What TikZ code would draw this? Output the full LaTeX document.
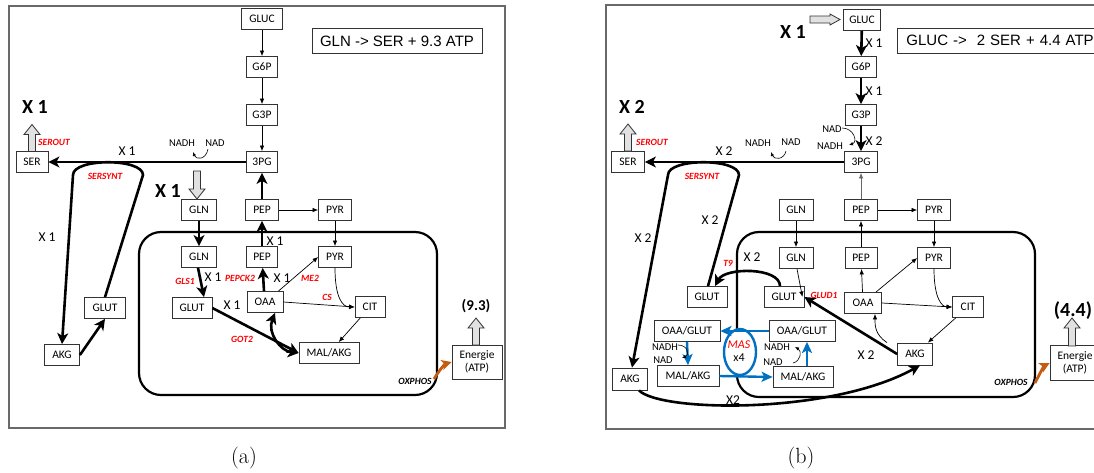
\documentclass[tikz,border=0pt]{standalone}
\usepackage{fontspec}
\newfontfamily\calib{Carlito}
\newfontfamily\arialf{Liberation Sans}
\usetikzlibrary{arrows.meta,shapes.geometric}
\definecolor{mred}{RGB}{255,0,0}
\definecolor{mblue}{RGB}{0,112,192}
\definecolor{morange}{RGB}{197,90,17}
\definecolor{framegray}{RGB}{105,105,105}
\definecolor{fatfill}{RGB}{225,225,225}
\newcommand\fatarr[5]{%
\begin{scope}[shift={(#1,#2)},rotate=#3]
\draw[fat] (0,-3.5)--(#4-10,-3.5)--(#4-10,-#5)--(#4,0)--(#4-10,#5)--(#4-10,3.5)--(0,3.5)--cycle;
\end{scope}}
\tikzset{
 box/.style={draw=black!80, line width=0.8pt, fill=white, font=\calib\fontsize{11.5}{13}\selectfont, inner sep=0pt, minimum height=21pt, minimum width=33pt},
 thin/.style={line width=0.7pt, -{Latex[length=5.5pt,width=4.5pt]}},
 thk/.style={line width=2.6pt, -{Stealth[length=11pt,width=11pt,inset=3pt]}},
 blu/.style={draw=mblue, line width=2.4pt, -{Stealth[length=11pt,width=10pt,inset=2.5pt]}},
 lbl/.style={font=\calib\fontsize{13.5}{15}\selectfont, inner sep=0pt},
 big/.style={font=\calib\bfseries\fontsize{20}{22}\selectfont, inner sep=0pt},
 enz/.style={font=\calib\bfseries\itshape\fontsize{9.5}{11}\selectfont, text=mred, inner sep=0pt},
 small/.style={font=\calib\fontsize{10.5}{11}\selectfont, inner sep=0pt},
 fat/.style={draw=black!80, line width=0.8pt, fill=fatfill},
 frame/.style={draw=framegray, line width=1.2pt},
 cell/.style={line width=2.2pt, rounded corners=22pt},
 nad/.style={line width=0.6pt, -{Latex[length=4pt,width=3.5pt]}},
 title/.style={draw=black!80, line width=0.8pt, font=\arialf\fontsize{15}{17}\selectfont, minimum height=25pt, inner sep=0pt},
 ox/.style={draw=morange, line width=2.8pt, -{Stealth[length=10pt,width=10pt,inset=2.5pt]}},
 captxt/.style={font=\fontsize{22}{24}\selectfont, inner sep=0pt},
}
\begin{document}
\begin{tikzpicture}[x=1pt,y=-1pt]
\useasboundingbox (0,0) rectangle (1094,472);
\clip (0,0) rectangle (1094,472);
% ================= panel (a) =================
\draw[frame] (9,6) rectangle (505,428);
\draw[cell] (139,232) rectangle (437,395);
\node[box, minimum width=41pt] (aGLUC) at (262,19) {GLUC};
\node[box, minimum width=31pt] (aG6P) at (262,67) {G6P};
\node[box, minimum width=31pt] (aG3P) at (262,115) {G3P};
\node[box, minimum width=31pt] (a3PG) at (262,162) {3PG};
\node[box] (aPEP) at (262,210) {PEP};
\node[box] (aPYR) at (335,210) {PYR};
\node[box, minimum width=35pt] (aGLN) at (199,210) {GLN};
\node[box, minimum width=35pt] (aGLNi) at (199,257) {GLN};
\node[box, minimum width=31pt] (aPEPi) at (262,257) {PEP};
\node[box] (aPYRi) at (335,257) {PYR};
\node[box, minimum width=40pt] (aGLUTi) at (192,308) {GLUT};
\node[box, minimum width=36pt] (aOAA) at (265,302) {OAA};
\node[box, minimum width=30pt] (aCIT) at (370,307) {CIT};
\node[box, minimum width=60pt] (aMAL) at (329,353) {MAL/AKG};
\node[box, minimum width=50pt, minimum height=34pt, align=center] (aEN) at (477,362) {Energie\\(ATP)};
\node[box, minimum width=41pt] (aGLUT) at (105,308) {GLUT};
\node[box, minimum width=35pt] (aAKG) at (62,355) {AKG};
\node[box, minimum width=32pt] (aSER) at (32,162) {SER};
\node[title, minimum width=170pt] (aT) at (397,41) {GLN -> SER + 9.3 ATP};
% connectors
\draw[thin] (aGLUC) -- (aG6P);
\draw[thin] (aG6P) -- (aG3P);
\draw[thin] (aG3P) -- (a3PG);
\draw[thk] (a3PG) -- (aSER);
\draw[thk] (aPEP) -- (a3PG);
\draw[thk] (aPEPi) -- (aPEP);
\draw[thin] (aPEP) -- (aPYR);
\draw[thin] (aPYR) -- (aPYRi);
\draw[thk] (aGLN) -- (aGLNi);
\draw[thk] ([xshift=-1pt]aGLNi.south) -- ([xshift=12pt]aGLUTi.north);
\draw[thk] ([xshift=-1pt]aOAA.north) -- (aPEPi);
\draw[thin] ([xshift=-5pt]aOAA.north east) -- (aPYRi.west);
\draw[thin] (aOAA.east) -- (aCIT.west);
\draw[thin] (aPYRi.south) .. controls +(0,30) and +(-12,0) .. (aCIT.west);
\draw[thin] (aCIT) -- (aMAL);
\draw[thk] (aGLUTi.east) -- (aMAL.west);
\draw[line width=2.6pt, {Stealth[length=11pt,width=11pt,inset=3pt]}-{Stealth[length=11pt,width=11pt,inset=3pt]}] ([xshift=10pt]aOAA.south) .. controls +(-8,20) and +(-18,-2) .. (aMAL.west);
\draw[thk] (aGLUT.north) -- (143,175) .. controls (143,158) and (73,158) .. (73,175) -- (aAKG.north);
\draw[thk] (aAKG.east) -- (aGLUT.south);
\draw[nad] (208,149) .. controls (206,160) and (196,160) .. (193,152);
\coordinate (aox) at (434,379);
\draw[ox] (aox) .. controls (440,369) and (445,364) .. (aEN.west);
\fatarr{32}{151.5}{90}{27}{8}
\fatarr{197}{171}{-90}{28}{8}
\fatarr{476}{345}{90}{27}{8}
% labels
\node[big] (aL1) at (35,107) {X 1};
\node[big] (aL2) at (168,191) {X 1};
\node[lbl] (aL3) at (127,151) {X 1};
\node[lbl] (aL4) at (47,237) {X 1};
\node[lbl] (aL5) at (213,277) {X 1};
\node[lbl] (aL6) at (275,241) {X 1};
\node[lbl] (aL7) at (282,278) {X 1};
\node[lbl] (aL8) at (232,305) {X 1};
\node[enz] (aE1) at (54,142) {SEROUT};
\node[enz] (aE2) at (105,176) {SERSYNT};
\node[enz] (aE3) at (185,281) {GLS1};
\node[enz] (aE4) at (240,278) {PEPCK2};
\node[enz] (aE5) at (310,278) {ME2};
\node[enz] (aE6) at (327,297) {CS};
\node[enz] (aE7) at (242,339) {GOT2};
\node[enz, text=black] (aE8) at (415,381) {OXPHOS};
\node[small] (aN1) at (182,143) {NADH};
\node[small] (aN2) at (215,143) {NAD};
\node[font=\calib\bfseries\fontsize{15}{17}\selectfont, inner sep=0pt] (aV) at (476,306) {(9.3)};
\node[captxt] (aCap) at (244,458) {(a)};
% ================= panel (b) =================
\draw[frame] (606,5) rectangle (1110,429);
\draw[cell] (737,232) rectangle (1035,397);
\node[box, minimum width=37pt] (bGLUC) at (862,20) {GLUC};
\node[box, minimum width=31pt] (bG6P) at (861,67) {G6P};
\node[box, minimum width=31pt] (bG3P) at (861,115) {G3P};
\node[box, minimum width=33pt] (b3PG) at (861,162) {3PG};
\node[box] (bPEP) at (861,210) {PEP};
\node[box] (bPYR) at (934,210) {PYR};
\node[box, minimum width=34pt] (bGLN) at (796,210) {GLN};
\node[box, minimum width=34pt] (bGLNi) at (796,258) {GLN};
\node[box, minimum width=32pt] (bPEPi) at (861,258) {PEP};
\node[box] (bPYRi) at (934,258) {PYR};
\node[box, minimum width=37pt] (bOAA) at (863,303) {OAA};
\node[box, minimum width=31pt] (bCIT) at (968,307) {CIT};
\node[box, minimum width=35pt, minimum height=22pt] (bAKGi) at (915,354) {AKG};
\node[box, minimum width=40pt] (bGLUTi) at (784,297) {GLUT};
\node[box, minimum width=40pt] (bGLUT) at (707,297) {GLUT};
\node[box, minimum width=35pt, minimum height=22pt] (bAKG) at (630,379) {AKG};
\node[box, minimum width=33pt] (bSER) at (628,162) {SER};
\node[box, minimum width=50pt, minimum height=35pt, align=center] (bEN) at (1075,363) {Energie\\(ATP)};
\node[title, anchor=west, text width=200pt, inner xsep=9pt, align=left] (bT) at (897,40.5) {GLUC ->\ \ 2 SER + 4.4 ATP};
\node[draw=mblue, line width=2.4pt, ellipse, fill=white, minimum width=32pt, minimum height=46pt, inner sep=0pt] (bMAS) at (740,352) {};
\node[box, minimum width=66pt] (bOG1) at (687,331) {OAA/GLUT};
\node[box, minimum width=62pt] (bMA1) at (688,376) {MAL/AKG};
\node[box, minimum width=66pt] (bOG2) at (802,331) {OAA/GLUT};
\node[box, minimum width=60pt] (bMA2) at (803,377) {MAL/AKG};
% connectors
\draw[thk] (bGLUC) -- (bG6P);
\draw[thk] (bG6P) -- (bG3P);
\draw[thk] (bG3P) -- (b3PG);
\draw[thk] (b3PG) -- (bSER);
\draw[thin, black!60] (bPEP) -- (b3PG);
\draw[thin] (bPEPi) -- (bPEP);
\draw[thin] (bPEP) -- (bPYR);
\draw[thin] (bPYR) -- (bPYRi);
\draw[thin] (bGLN) -- (bGLNi);
\draw[thin] ([xshift=1pt]bGLNi.south) -- ([xshift=-2pt]bGLUTi.east);
\draw[thk] (bAKGi.west) -- (bGLUTi.east);
\draw[thin] (bOAA) -- (bPEPi);
\draw[thin] ([xshift=-6pt]bOAA.north east) -- (bPYRi.west);
\draw[thin] (bOAA.east) -- (bCIT.west);
\draw[thin] (bPYRi.south) .. controls +(0,30) and +(-10,0) .. (bCIT.west);
\draw[thin] (bCIT) -- (bAKGi);
\draw[thin] ([xshift=-28pt]bAKGi.north) .. controls +(-12,-8) and +(0,12) .. ([xshift=12pt]bOAA.south);
\draw[thk] ([xshift=-4pt]bGLUTi.north) .. controls +(0,-19) and +(10,-19) .. ([xshift=8pt]bGLUT.north);
\draw[thk] ([xshift=1pt]bGLUT.north) -- (739,175) .. controls (739,158) and (668,158) .. (668,175) -- ([xshift=2pt]bAKG.north);
\draw[thk] ([xshift=9pt]bAKG.south) .. controls (660,412) and (830,415) .. ([xshift=5pt]bAKGi.south);
\draw[blu] (bOG2.west) -- (bOG1.east);
\draw[blu] (bMA1.east) -- (bMA2.west);
\draw[blu] (bOG1.south) -- (bMA1.north);
\draw[blu] ([xshift=4pt]bMA2.north) -- ([xshift=5pt]bOG2.south);
\draw[nad] (786,151) .. controls (784,160) and (774,160) .. (771,152);
\draw[nad] (842,128) .. controls (854,128) and (858,142) .. (849,145);
\draw[nad] (678,345) .. controls (688,345) and (690,355) .. (682,358);
\draw[nad] (793,363) .. controls (801,361) and (802,351) .. (795,347);
\coordinate (box) at (1035,383);
\draw[ox] (box) .. controls (1040,373) and (1044,366) .. (bEN.west);
\fatarr{628}{151}{90}{27}{8}
\fatarr{810}{19.5}{0}{30}{5.5}
\fatarr{1072}{346}{90}{28}{8}
% labels
\node[big] (bL1) at (793,32) {X 1};
\node[big] (bL2) at (632,107) {X 2};
\node[lbl] (bL3) at (874,43) {X 1};
\node[lbl] (bL4) at (874,91) {X 1};
\node[lbl] (bL5) at (874,141) {X 2};
\node[lbl] (bL6) at (724,151) {X 2};
\node[lbl] (bL7) at (643,238) {X 2};
\node[lbl] (bL8) at (710,220) {X 2};
\node[lbl] (bL9) at (752,257) {X 2};
\node[lbl] (bL10) at (866,355) {X 2};
\node[lbl] (bL11) at (733,400) {X2};
\node[enz] (bE1) at (652,142) {SEROUT};
\node[enz] (bE2) at (702,176) {SERSYNT};
\node[enz] (bE3) at (728,263) {T9};
\node[enz] (bE4) at (824,295) {GLUD1};
\node[enz, text=black] (bE5) at (1011,382) {OXPHOS};
\node[font=\calib\itshape\fontsize{12}{13}\selectfont, text=mred, inner sep=0pt] (bMASt) at (739,345) {MAS};
\node[font=\calib\fontsize{12}{13}\selectfont, inner sep=0pt] (bX4) at (739,358) {x4};
\node[small] (bN1) at (758,143) {NADH};
\node[small] (bN2) at (791,142) {NAD};
\node[small] (bN3) at (832,129) {NAD};
\node[small] (bN4) at (830,146) {NADH};
\node[small] (bN5) at (665,347) {NADH};
\node[small] (bN6) at (663,360) {NAD};
\node[small] (bN7) at (777,347) {NADH};
\node[small] (bN8) at (773,362) {NAD};
\node[font=\calib\bfseries\fontsize{20}{22}\selectfont, inner sep=0pt] (bV) at (1073,311) {(4.4)};
\node[captxt] (bCap) at (801,458) {(b)};
\end{tikzpicture}
\end{document}
